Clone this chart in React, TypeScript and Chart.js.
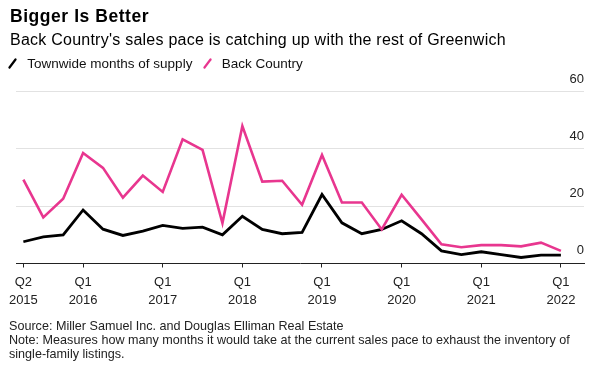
import React, { useEffect, useRef } from "react";
import { Chart, registerables } from "chart.js";

Chart.register(...registerables);

const quarters = [
  "Q2 2015", "Q3 2015", "Q4 2015",
  "Q1 2016", "Q2 2016", "Q3 2016", "Q4 2016",
  "Q1 2017", "Q2 2017", "Q3 2017", "Q4 2017",
  "Q1 2018", "Q2 2018", "Q3 2018", "Q4 2018",
  "Q1 2019", "Q2 2019", "Q3 2019", "Q4 2019",
  "Q1 2020", "Q2 2020", "Q3 2020", "Q4 2020",
  "Q1 2021", "Q2 2021", "Q3 2021", "Q4 2021",
  "Q1 2022",
];

const townwide = [
  7.6, 9.3, 10.0, 18.7, 12.0, 9.8, 11.3, 13.3, 12.3, 12.7,
  10.0, 16.5, 11.9, 10.4, 10.9, 24.1, 14.2, 10.4, 11.9, 14.9,
  10.4, 4.4, 3.1, 4.1, 3.1, 2.1, 2.9, 2.9,
];

const backCountry = [
  29.3, 16.1, 22.6, 38.6, 33.4, 23.0, 30.7, 25.0, 43.4, 39.7,
  14.1, 48.0, 28.6, 28.9, 20.5, 37.9, 21.3, 21.3, 11.9, 24.0,
  15.4, 6.7, 5.7, 6.4, 6.4, 6.0, 7.3, 4.4,
];

const tickQuarters = ["Q2 2015", "Q1 2016", "Q1 2017", "Q1 2018", "Q1 2019", "Q1 2020", "Q1 2021", "Q1 2022"];
const yTicks = [0, 20, 40, 60];

const PINK = "#e8368f";
const FONT = "'Liberation Sans', Arial, Helvetica, sans-serif";

export default function App() {
  const canvasRef = useRef<HTMLCanvasElement | null>(null);

  useEffect(() => {
    const canvas = canvasRef.current;
    if (!canvas) return;
    const tickIdx = tickQuarters.map((q) => quarters.indexOf(q));
    const chart = new Chart(canvas, {
      type: "line",
      data: {
        datasets: [
          {
            label: "Back Country",
            data: backCountry.map((y, i) => ({ x: i, y })),
            borderColor: PINK,
            borderWidth: 2.6,
            pointRadius: 0,
            tension: 0,
            order: 0,
          },
          {
            label: "Townwide months of supply",
            data: townwide.map((y, i) => ({ x: i, y })),
            borderColor: "#000000",
            borderWidth: 2.8,
            pointRadius: 0,
            tension: 0,
            order: 1,
          },
        ],
      },
      options: {
        animation: false,
        responsive: false,
        layout: { padding: { top: 91.7, left: 16, right: 16, bottom: 54.5 } },
        plugins: {
          legend: { display: false },
          tooltip: { enabled: false },
        },
        scales: {
          x: {
            type: "linear",
            min: -0.37,
            max: 28.16,
            afterBuildTicks: (s: any) => {
              s.ticks = tickIdx.map((v) => ({ value: v }));
            },
            afterFit: (s: any) => {
              s.height = 50;
            },
            ticks: {
              autoSkip: false,
              maxRotation: 0,
              minRotation: 0,
              padding: 6.4,
              color: "#222",
              font: { family: FONT, size: 13, lineHeight: 1.36 },
              callback: (v: any) => quarters[v].split(" "),
            },
            grid: {
              drawOnChartArea: false,
              drawTicks: true,
              tickLength: 4,
              tickColor: "#222",
              tickWidth: 1,
            },
            border: { display: true, color: "#222", width: 1 },
          },
          y: {
            position: "right",
            min: 0,
            max: 60,
            afterBuildTicks: (s: any) => {
              s.ticks = yTicks.map((v) => ({ value: v }));
            },
            afterFit: (s: any) => {
              s.width = 0;
            },
            ticks: {
              mirror: true,
              padding: 0,
              labelOffset: -12.7,
              color: "#222",
              font: { family: FONT, size: 13 },
            },
            grid: {
              drawTicks: false,
              lineWidth: 1,
              color: (c: any) => (c.tick && c.tick.value === 0 ? "rgba(0,0,0,0)" : "#e2e2e2"),
            },
            border: { display: false },
          },
        },
      },
    });
    return () => chart.destroy();
  }, []);

  const slash = (color: string) => (
    <svg width="9" height="11" style={{ display: "block" }}>
      <line x1="1.5" y1="9.5" x2="7.5" y2="1.5" stroke={color} strokeWidth="2.2" strokeLinecap="round" />
    </svg>
  );

  const text = (style: React.CSSProperties, children: React.ReactNode) => (
    <div style={{ position: "absolute", lineHeight: 1, whiteSpace: "nowrap", fontFamily: FONT, ...style }}>{children}</div>
  );

  return (
    <div style={{ position: "absolute", left: 0, top: 0, width: 600, height: 368, background: "#fff", overflow: "hidden" }}>
      <canvas ref={canvasRef} width={600} height={368} style={{ position: "absolute", left: 0, top: 0, display: "block" }} />
      {text({ left: 10, top: 7.7, fontSize: 17.5, letterSpacing: "0.55px", fontWeight: "bold", color: "#000" }, "Bigger Is Better")}
      {text({ left: 10, top: 32.2, fontSize: 16, letterSpacing: "0.24px", color: "#000" }, "Back Country's sales pace is catching up with the rest of Greenwich")}
      <div style={{ position: "absolute", left: 8, top: 57.5 }}>{slash("#000")}</div>
      {text({ left: 27.3, top: 56.5, fontSize: 13.5, color: "#111" }, "Townwide months of supply")}
      <div style={{ position: "absolute", left: 203, top: 57.5 }}>{slash(PINK)}</div>
      {text({ left: 221.7, top: 56.5, fontSize: 13.5, color: "#111" }, "Back Country")}
      {text({ left: 9, top: 318.7, fontSize: 12.6, color: "#222", lineHeight: "14px" }, (
        <>
          Source: Miller Samuel Inc. and Douglas Elliman Real Estate
          <br />
          Note: Measures how many months it would take at the current sales pace to exhaust the inventory of
          <br />
          single-family listings.
        </>
      ))}
    </div>
  );
}
